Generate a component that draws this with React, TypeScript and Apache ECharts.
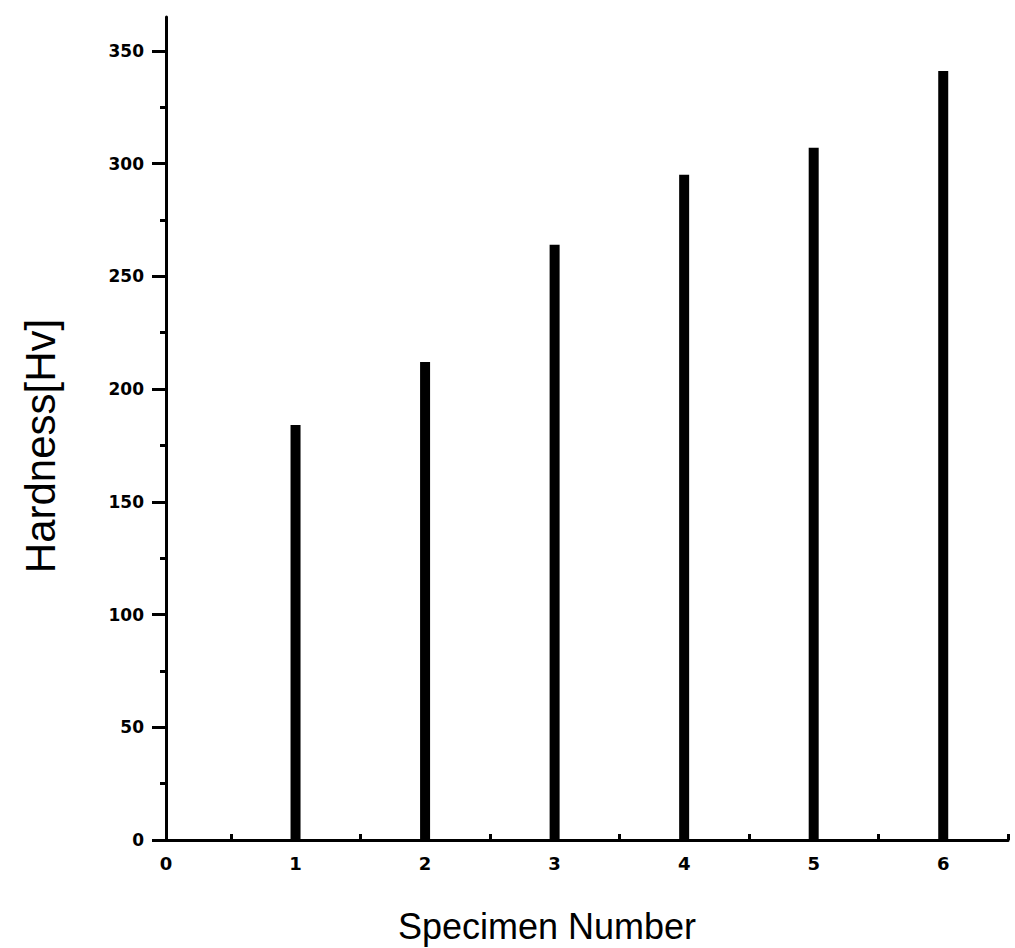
import React, { useEffect, useRef } from "react";
import * as echarts from "echarts";

const specimens = [1, 2, 3, 4, 5, 6];
const hardness = [184, 212, 264, 295, 307, 341];
const yTickLabels = [0, 50, 100, 150, 200, 250, 300, 350];
const yMinorTicks = [25, 75, 125, 175, 225, 275, 325];
const xTickLabels = [0, 1, 2, 3, 4, 5, 6];
const xMinorTicks = [0.5, 1.5, 2.5, 3.5, 4.5, 5.5, 6.5];
const xTitle = "Specimen Number";
const yTitle = "Hardness[Hv]";

export default function App() {
  const ref = useRef<HTMLDivElement>(null);
  useEffect(() => {
    if (!ref.current) return;
    const chart = echarts.init(ref.current, null, { renderer: "svg" });
    const labelFont = { fontFamily: "DejaVu Sans", fontWeight: "bold" as const, color: "#000" };
    chart.setOption({
      animation: false,
      backgroundColor: "#fff",
      grid: { left: 166, right: 7, top: 17, bottom: 108, containLabel: false },
      xAxis: [
        {
          type: "value",
          min: 0,
          max: 6.5,
          axisLine: { show: true, onZero: false, lineStyle: { color: "#000", width: 3 } },
          axisTick: { show: false },
          axisLabel: { ...labelFont, fontSize: 18, margin: 14, customValues: xTickLabels },
          splitLine: { show: false },
        },
        {
          type: "value",
          min: 0,
          max: 6.5,
          position: "bottom",
          axisLine: { show: false },
          axisTick: { show: true, inside: true, length: 6, lineStyle: { color: "#000", width: 3 }, customValues: xMinorTicks },
          axisLabel: { show: false },
          splitLine: { show: false },
        },
      ],
      yAxis: [
        {
          type: "value",
          min: 0,
          max: 365,
          axisLine: { show: true, onZero: false, lineStyle: { color: "#000", width: 3 } },
          axisTick: { show: true, length: 14, lineStyle: { color: "#000", width: 3 }, customValues: yTickLabels },
          axisLabel: { ...labelFont, fontSize: 17, margin: 22, customValues: yTickLabels },
          splitLine: { show: false },
        },
        {
          type: "value",
          min: 0,
          max: 365,
          position: "left",
          axisLine: { show: false },
          axisTick: { show: true, length: 6, lineStyle: { color: "#000", width: 3 }, customValues: yMinorTicks },
          axisLabel: { show: false },
          splitLine: { show: false },
        },
      ],
      series: [
        {
          type: "bar",
          xAxisIndex: 0,
          yAxisIndex: 0,
          barWidth: 10,
          itemStyle: { color: "#000" },
          data: specimens.map((s, i) => [s, hardness[i]]),
        },
      ],
      graphic: [
        {
          type: "text",
          x: 547,
          y: 926,
          style: {
            text: xTitle,
            font: "36px 'Liberation Sans', Arial, sans-serif",
            fill: "#000",
            align: "center",
            verticalAlign: "middle",
          },
        },
        {
          type: "text",
          x: 40,
          y: 446,
          rotation: Math.PI / 2,
          style: {
            text: yTitle,
            font: "42px 'Liberation Sans', Arial, sans-serif",
            fill: "#000",
            align: "center",
            verticalAlign: "middle",
          },
        },
      ],
    });
    return () => chart.dispose();
  }, []);
  return (
    <div
      ref={ref}
      style={{ position: "absolute", left: 0, top: 0, width: 1015, height: 948 }}
    />
  );
}
